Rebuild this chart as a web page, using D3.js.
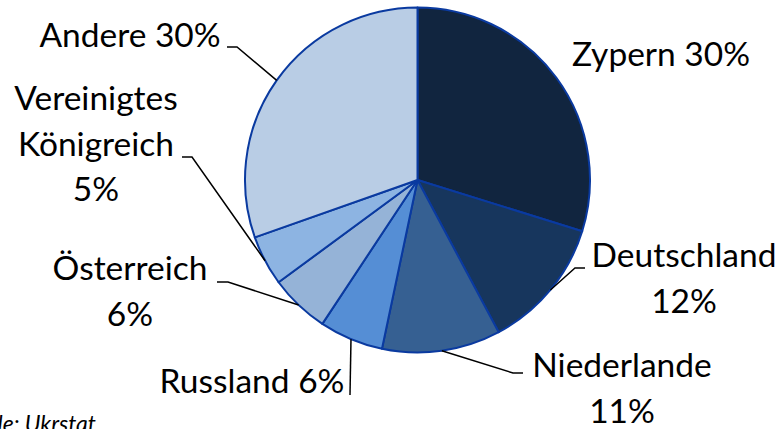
<!DOCTYPE html>
<html>
<head>
<meta charset="utf-8">
<script src="https://cdn.jsdelivr.net/npm/d3@7"></script>
<style>
  html, body { margin: 0; padding: 0; background: #fff; }
  svg { display: block; }
  text { font-family: Lato, "Noto Sans", sans-serif; fill: #000; }
</style>
</head>
<body>
<svg id="chart" width="780" height="429"></svg>
<script>
// ---- data ----
const categories = ["Zypern", "Deutschland", "Niederlande", "Russland", "Österreich", "Vereinigtes Königreich", "Andere"];
const values = [29.8, 12.4, 11.1, 6.0, 5.6, 4.7, 30.4];
const labelLines = [
  ["Zypern {p}"],
  ["Deutschland", "{p}"],
  ["Niederlande", "{p}"],
  ["Russland {p}"],
  ["Österreich", "{p}"],
  ["Vereinigtes", "Königreich", "{p}"],
  ["Andere {p}"]
];
const sourceText = "Quelle: Ukrstat";

// ---- styles / layout ----
const colors = ["#11253f", "#17365d", "#366092", "#558ed5", "#95b3d7", "#8db4e2", "#b9cde5"];
const strokeColor = "#0a3aa0";
const cx = 417.5, cy = 180, R = 172.5;
const fontSize = 33.5, lineH = 45.5;
// label anchor (x, first baseline), leader elbow and end points
const labelLayout = [
  { x: 661, y: 66, anchor: "middle", leader: null },
  { x: 684, y: 267, anchor: "middle", leader: [[575, 268], [585, 268]] },
  { x: 622, y: 377, anchor: "middle", leader: [[513, 373], [523, 373]] },
  { x: 252, y: 393, anchor: "middle", leader: [[350, 395]] },
  { x: 130, y: 280, anchor: "middle", leader: [[228, 282], [217, 282]] },
  { x: 96, y: 110, anchor: "middle", leader: [[192, 157], [182, 157]] },
  { x: 130, y: 47, anchor: "middle", leader: [[237, 47], [227, 47]] }
];

const svg = d3.select("#chart");
const data = categories.map((c, i) => ({ cat: c, value: values[i], i }));

const pie = d3.pie().value(d => d.value).sort(null);
const arcs = pie(data);
const arc = d3.arc().innerRadius(0).outerRadius(R);

const g = svg.append("g").attr("transform", `translate(${cx},${cy})`);
g.selectAll("path.slice")
  .data(arcs)
  .join("path")
  .attr("class", "slice")
  .attr("d", arc)
  .attr("fill", d => colors[d.data.i])
  .attr("stroke", strokeColor)
  .attr("stroke-width", 2)
  .attr("stroke-linejoin", "round");

// leader lines
arcs.forEach(a => {
  const L = labelLayout[a.data.i];
  if (!L.leader) return;
  const mid = (a.startAngle + a.endAngle) / 2;
  const p0 = [cx + R * Math.sin(mid), cy - R * Math.cos(mid)];
  const pts = [p0].concat(L.leader);
  svg.append("path")
    .attr("d", d3.line()(pts))
    .attr("fill", "none")
    .attr("stroke", "#000")
    .attr("stroke-width", 1.5);
});

// labels
arcs.forEach(a => {
  const i = a.data.i;
  const L = labelLayout[i];
  const pct = Math.round(a.data.value) + "%";
  const t = svg.append("text")
    .attr("x", L.x).attr("y", L.y)
    .attr("text-anchor", L.anchor)
    .style("font-size", fontSize + "px");
  labelLines[i].forEach((ln, k) => {
    t.append("tspan")
      .attr("x", L.x)
      .attr("y", L.y + k * lineH)
      .text(ln.replace("{p}", pct));
  });
});

// source
svg.append("text")
  .attr("x", 96).attr("y", 432)
  .attr("text-anchor", "end")
  .style("font-size", "23px")
  .style("font-style", "italic")
  .text(sourceText);
</script>
</body>
</html>
